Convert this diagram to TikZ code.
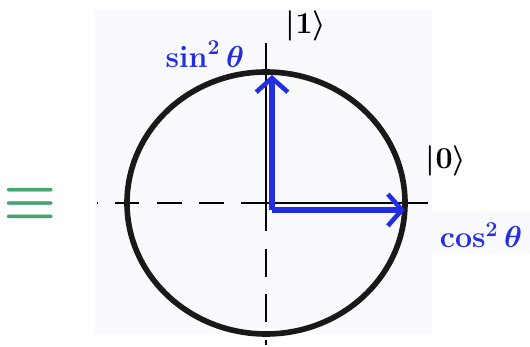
\documentclass[tikz,border=0pt]{standalone}
\usepackage{amsmath, amssymb}
\usepackage{tikz}
\usetikzlibrary{arrows.meta, shapes.geometric}
\definecolor{penblue}{RGB}{35,45,225}
\definecolor{pengreen}{RGB}{70,165,115}
\definecolor{paper}{RGB}{249,250,254}

\begin{document}
\begin{tikzpicture}[
        axisline/.style={draw=black, line width=1.6pt},
        probarrow/.style={draw=penblue, line width=3.6pt, -{Straight Barb[length=8pt, width=18pt, line width=2.6pt]}},
        ketlabel/.style={text=black, font=\LARGE\bfseries}
    ]
        \useasboundingbox (0,0) rectangle (10.6,6.94);
        % --- PAPER ---
        \fill[paper] (1.9,0.25) rectangle (8.64,6.74);
        \fill[paper] (8.64,1.85) rectangle (10.6,2.7);

        % --- AXES ---
        \coordinate (o) at (5.32,2.88);
        \coordinate (xl) at (1.94,2.88);
        \coordinate (xr) at (8.56,2.88);
        \coordinate (yt) at (5.32,6.08);
        \coordinate (yb) at (5.32,0.04);
        \draw[axisline, dash pattern=on 14pt off 10pt] (o) -- (xl);
        \draw[axisline] (o) -- (xr);
        \draw[axisline] (o) -- (yt);
        \draw[axisline, dash pattern=on 16pt off 10pt] (o) -- (yb);

        % --- BLOCH CIRCLE ---
        \node (bloch) at (o) [ellipse, draw=black!90, line width=3.2pt, minimum width=5.56cm, minimum height=5.24cm] {};

        % --- COMPONENTS ---
        \coordinate (start) at (5.44,2.74);
        \coordinate (up) at (5.44,5.44);
        \coordinate (right) at (8.1,2.74);
        \draw[probarrow] (start) -- (up);
        \draw[probarrow] (start) -- (right);

        \node (sinlbl) at (4.1,5.86) [text=penblue, font=\LARGE\bfseries] {$\boldsymbol{\sin^2\theta}$};
        \node (coslbl) at (9.62,2.24) [text=penblue, font=\LARGE\bfseries] {$\boldsymbol{\cos^2\theta}$};
        \node (ket1) at (6.12,6.42) [ketlabel] {$\boldsymbol{|1\rangle}$};
        \node (ket0) at (8.92,3.72) [ketlabel] {$\boldsymbol{|0\rangle}$};

        \node (equiv) at (0.6,2.86) [text=pengreen, scale=3.4] {$\boldsymbol{\equiv}$};
    \end{tikzpicture}
\end{document}
